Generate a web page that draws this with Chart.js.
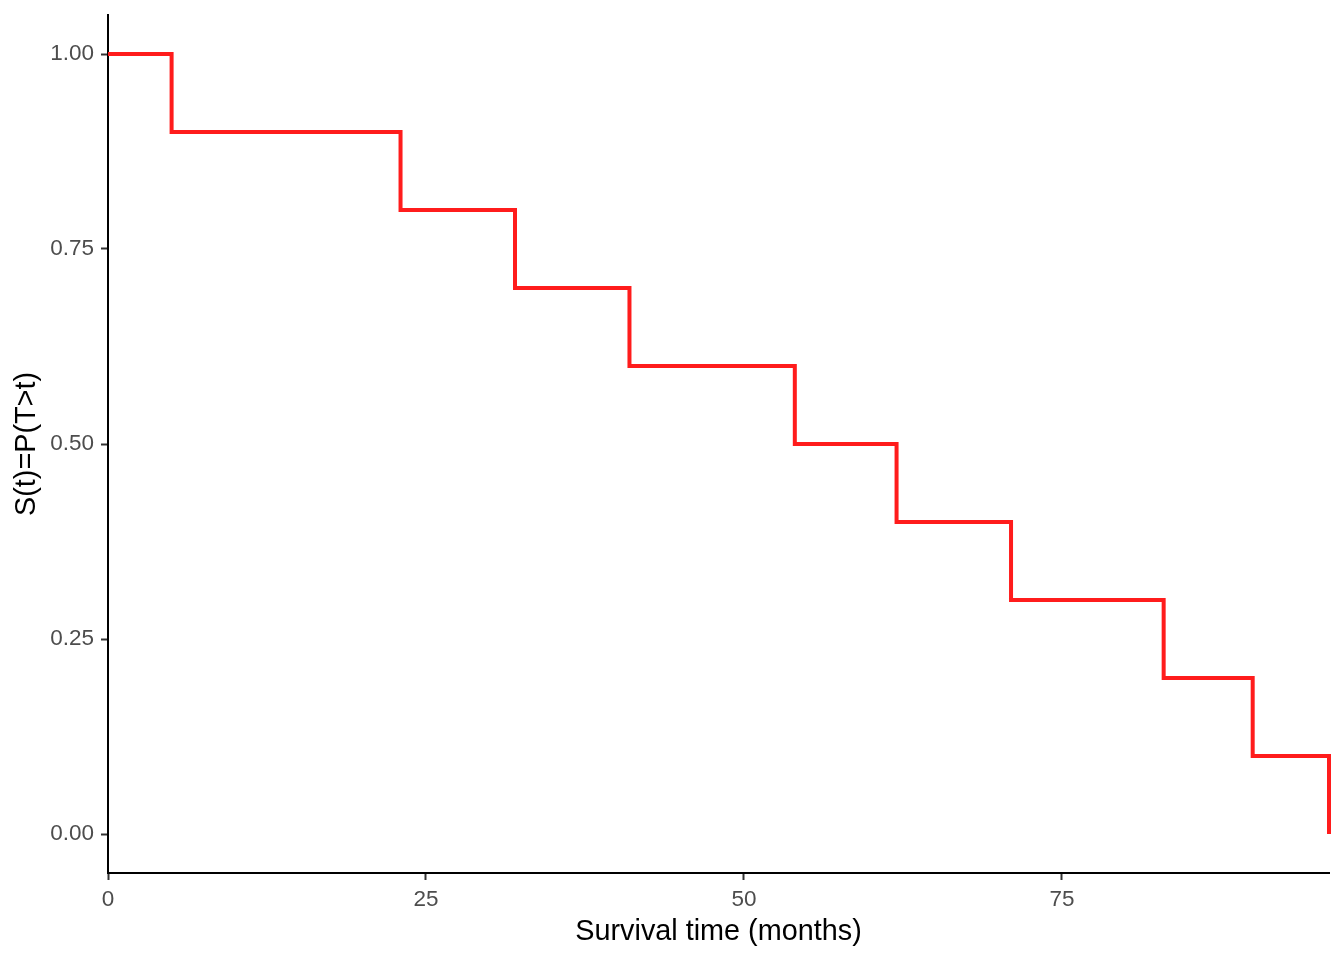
<!DOCTYPE html>
<html>
<head>
<meta charset="utf-8">
<script src="https://cdn.jsdelivr.net/npm/chart.js@4"></script>
<style>
html,body{margin:0;padding:0;background:#fff;}
#wrap{width:1344px;height:960px;position:relative;}
</style>
</head>
<body>
<div id="wrap"><canvas id="c" width="1344" height="960"></canvas></div>
<script>
const times = [0, 5, 23, 32, 41, 54, 62, 71, 83, 90, 96];
const survival = [1.0, 0.9, 0.8, 0.7, 0.6, 0.5, 0.4, 0.3, 0.2, 0.1, 0.0];
const xTicks = [0, 25, 50, 75];
const yTicks = [0.00, 0.25, 0.50, 0.75, 1.00];
const xTitle = 'Survival time (months)';
const yTitle = 'S(t)=P(T>t)';

const FONT = "'Liberation Sans', Arial, sans-serif";
const points = times.map((t, i) => ({x: t, y: survival[i]}));

new Chart(document.getElementById('c'), {
  type: 'line',
  data: {
    datasets: [{
      data: points,
      stepped: 'before',
      borderColor: '#ff1c1c',
      borderWidth: 4,
      pointRadius: 0,
      fill: false,
      clip: 10,
      borderCapStyle: 'butt',
      borderJoinStyle: 'miter'
    }]
  },
  options: {
    responsive: false,
    animation: false,
    devicePixelRatio: 1,
    layout: {padding: {left: 0, top: 15, right: 15, bottom: 0}},
    plugins: {legend: {display: false}, tooltip: {enabled: false}},
    scales: {
      x: {
        type: 'linear',
        min: 0,
        max: 96,
        afterBuildTicks: s => { s.ticks = xTicks.map(v => ({value: v})); },
        afterFit: s => { s.height = 87; s.paddingLeft = 0; s.paddingRight = 0; },
        grid: {drawOnChartArea: false, drawTicks: true, tickLength: 7, tickColor: '#333333', tickWidth: 2},
        border: {display: true, color: '#000000', width: 2},
        ticks: {
          color: '#4d4d4d',
          font: {family: FONT, size: 22.5},
          padding: 6,
          maxRotation: 0,
          callback: v => String(v)
        },
        title: {
          display: true,
          text: xTitle,
          color: '#000000',
          font: {family: FONT, size: 28.8, lineHeight: 1.2},
          padding: {top: 11, bottom: 11}
        }
      },
      y: {
        type: 'linear',
        min: -0.05,
        max: 1.05,
        afterBuildTicks: s => { s.ticks = yTicks.map(v => ({value: v})); },
        afterFit: s => { s.width = 108; s.paddingTop = 0; s.paddingBottom = 0; },
        grid: {drawOnChartArea: false, drawTicks: true, tickLength: 7, tickColor: '#333333', tickWidth: 2},
        border: {display: true, color: '#000000', width: 2},
        ticks: {
          color: '#4d4d4d',
          font: {family: FONT, size: 22.5},
          padding: 7,
          callback: v => Number(v).toFixed(2)
        },
        title: {
          display: true,
          text: yTitle,
          color: '#000000',
          font: {family: FONT, size: 28.8, lineHeight: 1.2},
          padding: {top: 10, bottom: 10}
        }
      }
    }
  }
});
</script>
</body>
</html>
